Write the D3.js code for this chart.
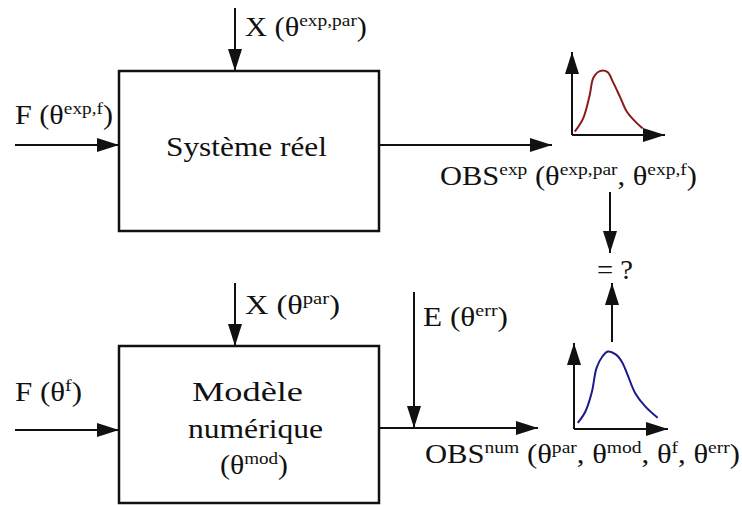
<!DOCTYPE html>
<html>
<head>
<meta charset="utf-8">
<script src="https://cdn.jsdelivr.net/npm/d3@7"></script>
<style>
  body { margin: 0; background: #fff; }
  text { font-family: "Liberation Serif", "Times New Roman", serif; fill: #111; }
</style>
</head>
<body>
<svg id="chart" width="742" height="505"></svg>
<script>
// mini distribution curves (normalised 0..1 inside each small plot)
const expCurveX = [0.03, 0.12, 0.19, 0.23, 0.30, 0.38, 0.44, 0.52, 0.59, 0.70, 0.76];
const expCurveY = [0.04, 0.20, 0.48, 0.69, 0.77, 0.76, 0.64, 0.45, 0.28, 0.14, 0.08];
const numCurveX = [0.04, 0.12, 0.19, 0.24, 0.30, 0.36, 0.44, 0.51, 0.57, 0.65, 0.76, 0.89];
const numCurveY = [0.07, 0.20, 0.43, 0.71, 0.84, 0.90, 0.87, 0.78, 0.63, 0.42, 0.26, 0.13];

// labels, as [text, superscript?] pieces
const labelXexp = [['X (θ', 0], ['exp,par', 1], [')', 0]];
const labelFexp = [['F (θ', 0], ['exp,f', 1], [')', 0]];
const labelXnum = [['X (θ', 0], ['par', 1], [')', 0]];
const labelFnum = [['F (θ', 0], ['f', 1], [')', 0]];
const labelE = [['E (θ', 0], ['err', 1], [')', 0]];
const labelObsExp = [['OBS', 0], ['exp', 1], [' (θ', 0], ['exp,par', 1], [', θ', 0], ['exp,f', 1], [')', 0]];
const labelObsNum = [['OBS', 0], ['num', 1], [' (θ', 0], ['par', 1], [', θ', 0], ['mod', 1], [', θ', 0], ['f', 1], [', θ', 0], ['err', 1], [')', 0]];
const boxReal = ['Système réel'];
const boxModel = [[['Modèle', 0]], [['numérique', 0]], [['(θ', 0], ['mod', 1], [')', 0]]];
const compareLabel = '= ?';

const svg = d3.select('#chart');

svg.append('defs').append('marker')
  .attr('id', 'head')
  .attr('markerUnits', 'userSpaceOnUse')
  .attr('viewBox', '0 0 22 14')
  .attr('refX', 22).attr('refY', 7)
  .attr('markerWidth', 22).attr('markerHeight', 14)
  .attr('orient', 'auto')
  .append('path')
  .attr('d', 'M0,0 L22,7 L0,14 Z')
  .style('fill', '#111');

function arrow(x1, y1, x2, y2, head = true) {
  const l = svg.append('line')
    .attr('x1', x1).attr('y1', y1).attr('x2', x2).attr('y2', y2)
    .style('stroke', '#111').style('stroke-width', 2);
  if (head) l.attr('marker-end', 'url(#head)');
  return l;
}

// rich text with superscripts, fitted to a width
function label(pieces, x, y, width, size = 27) {
  const t = svg.append('text')
    .attr('x', x).attr('y', y)
    .style('font-size', size + 'px');
  let up = false;
  pieces.forEach(([s, sup]) => {
    const ts = t.append('tspan').text(s);
    if (sup) ts.style('font-size', (size * 0.64) + 'px');
    if (sup && !up) { ts.attr('dy', -10); up = true; }
    else if (!sup && up) { ts.attr('dy', 10); up = false; }
  });
  if (width) t.attr('textLength', width).attr('lengthAdjust', 'spacingAndGlyphs');
  return t;
}

// boxes
svg.append('rect').attr('x', 119).attr('y', 71).attr('width', 260).attr('height', 160)
  .style('fill', 'none').style('stroke', '#111').style('stroke-width', 2.5);
svg.append('rect').attr('x', 119).attr('y', 346).attr('width', 260).attr('height', 157)
  .style('fill', 'none').style('stroke', '#111').style('stroke-width', 2.5);

// top system
arrow(235, 8, 235, 71);
label(labelXexp, 245, 36, 122);
arrow(15, 145, 119, 145);
label(labelFexp, 15, 124, 98);
label([[boxReal[0], 0]], 166, 156, 161);
arrow(379, 145, 552, 145);
label(labelObsExp, 440, 185, 257);
arrow(610, 192, 610, 253);
label([[compareLabel, 0]], 597, 279, 36);
arrow(612, 342, 612, 283);

// bottom model
arrow(235, 283, 235, 346);
label(labelXnum, 245, 314, 95);
arrow(15, 430, 119, 430);
label(labelFnum, 15, 401, 67);
label(boxModel[0], 192, 401, 111);
label(boxModel[1], 188, 438, 135);
label(boxModel[2], 220, 474, 68);
arrow(379, 428, 538, 428);
arrow(414, 292, 414, 428);
label(labelE, 423, 326, 85);
label(labelObsNum, 425, 463, 315);

// small distribution plots
function miniPlot(ox, oy, w, h, xs, ys, color) {
  const x = d3.scaleLinear().domain([0, 1]).range([ox, ox + w]);
  const y = d3.scaleLinear().domain([0, 1]).range([oy, oy - h]);
  arrow(x(0), y(0), x(0), y(1));
  arrow(x(0), y(0), x(1), y(0));
  const pts = xs.map((v, i) => [v, ys[i]]);
  svg.append('path')
    .datum(pts)
    .attr('d', d3.line().x(d => x(d[0])).y(d => y(d[1])).curve(d3.curveCatmullRom))
    .style('fill', 'none').style('stroke', color).style('stroke-width', 2);
}
miniPlot(572, 135, 93, 83, expCurveX, expCurveY, '#8b1a1a');
miniPlot(574, 429, 94, 86, numCurveX, numCurveY, '#1a1a8b');
</script>
</body>
</html>
